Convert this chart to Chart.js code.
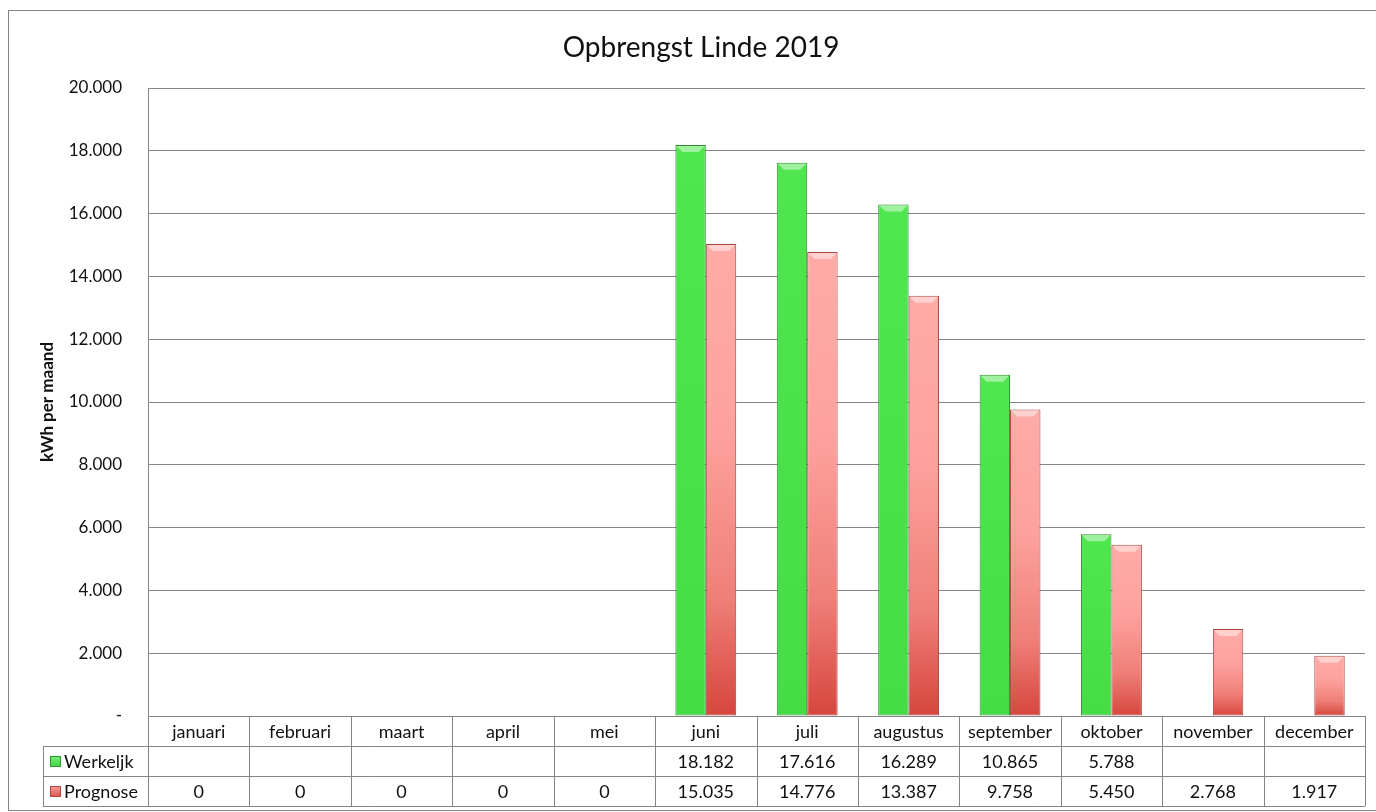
<!DOCTYPE html>
<html lang="nl">
<head>
<meta charset="UTF-8">
<title>Opbrengst Linde 2019</title>
<script src="https://cdn.jsdelivr.net/npm/chart.js"></script>
<style>
    body { margin: 0; background: #fff; }
    canvas { display: block; }
</style>
</head>
<body>
<canvas id="chart" width="1376" height="812"></canvas>
<script>
    // Gegevens
    const maanden = ["januari", "februari", "maart", "april", "mei", "juni",
                     "juli", "augustus", "september", "oktober", "november", "december"];
    const werkelijk = [null, null, null, null, null, 18182, 17616, 16289, 10865, 5788, null, null];
    const prognose = [0, 0, 0, 0, 0, 15035, 14776, 13387, 9758, 5450, 2768, 1917];
    const reeksNamen = ["Werkeljk", "Prognose"];
    const yMax = 20000;
    const yStap = 2000;

    const lettertype = "Lato, 'Open Sans', sans-serif";
    const lijnKleur = "#858585";

    // 18182 -> "18.182"
    function fmt(v) {
        if (v === null || v === undefined) return "";
        return String(v).replace(/\B(?=(\d{3})+(?!\d))/g, ".");
    }

    // kleurverloop per balk, van boven naar onder
    function verloop(stops, reserve) {
        return function (c) {
            const chart = c.chart;
            const y = chart.scales.y;
            if (!y || c.raw === null || c.raw === undefined) return reserve;
            const boven = y.getPixelForValue(c.raw);
            const onder = y.getPixelForValue(0);
            if (!isFinite(boven) || boven >= onder) return reserve;
            const g = chart.ctx.createLinearGradient(0, boven, 0, onder);
            stops.forEach(s => g.addColorStop(s[0], s[1]));
            return g;
        };
    }

    const groen = verloop([[0, "#50e650"], [1, "#45dc45"]], "#4ae14a");
    const roze = verloop([[0, "#ffaba8"], [0.4, "#fda19e"], [0.75, "#ef7f78"], [1, "#d6463d"]], "#f08a86");

    // lichte schuine rand bovenop elke balk
    const afschuinPlugin = {
        id: "afschuining",
        afterDatasetsDraw(chart) {
            const ctx = chart.ctx;
            ctx.save();
            chart.data.datasets.forEach((ds, d) => {
                chart.getDatasetMeta(d).data.forEach((bar, i) => {
                    if (!ds.data[i]) return;
                    const { x, y, width, base } = bar.getProps(["x", "y", "width", "base"], true);
                    const h = Math.min(6, (base - y) / 2);
                    const l = x - width / 2 + 1, r = x + width / 2 - 1;
                    ctx.fillStyle = "rgba(255,255,255,0.45)";
                    ctx.beginPath();
                    ctx.moveTo(l, y + 1);
                    ctx.lineTo(r, y + 1);
                    ctx.lineTo(r - h, y + 1 + h);
                    ctx.lineTo(l + h, y + 1 + h);
                    ctx.closePath();
                    ctx.fill();
                });
            });
            ctx.restore();
        }
    };

    // Tabel onder de grafiek
    const tabelPlugin = {
        id: "datatabel",
        afterDraw(chart) {
            const { ctx, chartArea } = chart;
            const x = chart.scales.x;
            const rijH = 30;
            const top = Math.round(chartArea.bottom);
            const links = 43;
            const kolom = (chartArea.right - chartArea.left) / maanden.length;

            ctx.save();
            ctx.strokeStyle = lijnKleur;
            ctx.lineWidth = 1;
            ctx.beginPath();
            // horizontale lijnen
            ctx.moveTo(chartArea.left, top + 0.5);
            ctx.lineTo(chartArea.right, top + 0.5);
            for (let r = 1; r <= 3; r++) {
                ctx.moveTo(links, top + r * rijH + 0.5);
                ctx.lineTo(chartArea.right, top + r * rijH + 0.5);
            }
            // verticale lijnen
            for (let i = 0; i <= maanden.length; i++) {
                const xp = Math.round(chartArea.left + i * kolom) + 0.5;
                ctx.moveTo(xp, top);
                ctx.lineTo(xp, top + 3 * rijH);
            }
            ctx.moveTo(links + 0.5, top + rijH);
            ctx.lineTo(links + 0.5, top + 3 * rijH);
            ctx.stroke();

            ctx.fillStyle = "#111";
            ctx.font = "18px " + lettertype;
            ctx.textAlign = "center";
            ctx.textBaseline = "middle";
            maanden.forEach((m, i) => {
                const xc = x.getPixelForValue(i);
                ctx.fillText(m, xc, top + rijH / 2 + 1);
                ctx.fillText(fmt(werkelijk[i]), xc, top + rijH * 1.5 + 1);
                ctx.fillText(fmt(prognose[i]), xc, top + rijH * 2.5 + 1);
            });

            // legenda in de eerste kolom
            const sleutels = [["#7aee7a", "#3fd43f", "#2f9a2f"], ["#f7a09c", "#d9544b", "#b9453e"]];
            reeksNamen.forEach((naam, r) => {
                const yc = top + rijH * (1.5 + r);
                const g = ctx.createLinearGradient(0, yc - 5, 0, yc + 6);
                g.addColorStop(0, sleutels[r][0]);
                g.addColorStop(1, sleutels[r][1]);
                ctx.fillStyle = g;
                ctx.fillRect(50, yc - 5, 11, 11);
                ctx.strokeStyle = sleutels[r][2];
                ctx.strokeRect(50.5, yc - 4.5, 10, 10);
                ctx.fillStyle = "#111";
                ctx.textAlign = "left";
                ctx.fillText(naam, 64, yc + 1);
            });

            // rand om het geheel
            ctx.strokeStyle = lijnKleur;
            ctx.strokeRect(8.5, 10.5, 1400, 800);
            ctx.restore();
        }
    };

    const ctx = document.getElementById("chart").getContext("2d");
    const chart = new Chart(ctx, {
        type: "bar",
        data: {
            labels: maanden,
            datasets: [
                {
                    label: reeksNamen[0],
                    data: werkelijk,
                    backgroundColor: groen,
                    borderColor: "#2c8f2c",
                    borderWidth: 1,
                    borderSkipped: false
                },
                {
                    label: reeksNamen[1],
                    data: prognose,
                    backgroundColor: roze,
                    borderColor: "#a9443e",
                    borderWidth: 1,
                    borderSkipped: false
                }
            ]
        },
        options: {
            responsive: false,
            animation: false,
            devicePixelRatio: 1,
            layout: { padding: { left: 37, right: 11, top: 0, bottom: 96 } },
            datasets: { bar: { categoryPercentage: 0.6, barPercentage: 1.0 } },
            plugins: {
                legend: { display: false },
                tooltip: { enabled: false },
                title: {
                    display: true,
                    text: "Opbrengst Linde 2019",
                    color: "#111",
                    font: { family: lettertype, size: 28, weight: "normal" },
                    padding: { top: 31, bottom: 23.4 }
                }
            },
            scales: {
                x: { display: false },
                y: {
                    min: 0,
                    max: yMax,
                    afterFit(scale) { scale.width = 148 - 37; },
                    ticks: {
                        stepSize: yStap,
                        padding: 26,
                        color: "#111",
                        font: { family: lettertype, size: 17 },
                        callback: v => v === 0 ? "-" : fmt(v)
                    },
                    grid: { color: lijnKleur, drawTicks: false },
                    border: { display: true, color: lijnKleur },
                    title: {
                        display: true,
                        text: "kWh per maand",
                        color: "#111",
                        font: { family: lettertype, size: 17, weight: "bold" },
                        padding: { top: 0, bottom: 0 }
                    }
                }
            }
        },
        plugins: [afschuinPlugin, tabelPlugin]
    });
</script>
</body>
</html>
